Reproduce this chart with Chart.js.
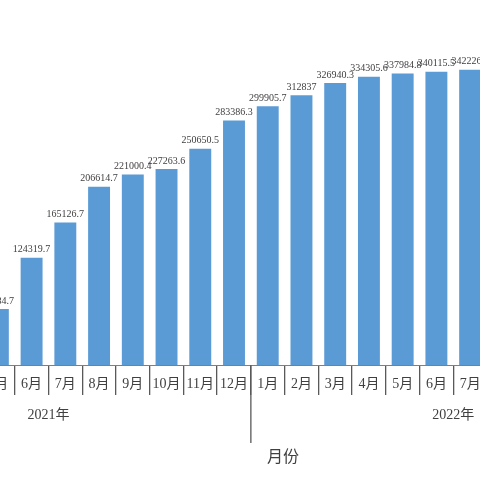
<!DOCTYPE html>
<html>
<head>
<meta charset="utf-8">
<script src="https://cdn.jsdelivr.net/npm/chart.js@4"></script>
<style>
  html, body { margin: 0; padding: 0; background: #fff; overflow: hidden; width: 480px; height: 480px; }
  #wrap { position: absolute; left: -40px; top: 0; }
</style>
</head>
<body>
<div id="wrap"><canvas id="barChart" width="560" height="480"></canvas></div>
<script>
// months shown (2021年5月 .. 2022年7月)
const months = ["5月", "6月", "7月", "8月", "9月", "10月", "11月", "12月",
                "1月", "2月", "3月", "4月", "5月", "6月", "7月"];
const values = [64884.7, 124319.7, 165126.7, 206614.7, 221000.4, 227263.6, 250650.5, 283386.3,
                299905.7, 312837, 326940.3, 334305.6, 337984.8, 340115.5, 342226.5];
const yearLabels = ["2021年", "2022年"];
// year groups as category index ranges (first / last month index of each year)
const yearFirst = [-4, 8];
const yearLast = [7, 19];
const yMax = 400000;
const axisTitle = "月份";

const serif = "'Liberation Serif', 'Noto Sans CJK SC', serif";

const labelPlugin = {
  id: "labelPlugin",
  afterDatasetsDraw(chart) {
    const ctx = chart.ctx;
    const meta = chart.getDatasetMeta(0);
    ctx.save();
    ctx.font = "10px " + serif;
    ctx.fillStyle = "#404040";
    ctx.textAlign = "center";
    ctx.textBaseline = "bottom";
    meta.data.forEach((bar, i) => {
      ctx.fillText(String(values[i]), bar.x, bar.y - 3);
    });
    ctx.restore();
  },
  afterDraw(chart) {
    const ctx = chart.ctx;
    const x = chart.scales.x;
    ctx.save();
    // long separator between the two years
    const sep = (x.getPixelForValue(7) + x.getPixelForValue(8)) / 2;
    ctx.strokeStyle = "#595959";
    ctx.lineWidth = 1.3;
    ctx.beginPath();
    ctx.moveTo(sep, x.top);
    ctx.lineTo(sep, x.top + 78);
    ctx.stroke();

    ctx.fillStyle = "#404040";
    ctx.textAlign = "center";
    ctx.textBaseline = "middle";
    ctx.font = "14px " + serif;
    yearLabels.forEach((t, i) => {
      const c = x.getPixelForValue((yearFirst[i] + yearLast[i]) / 2);
      ctx.fillText(t, c, x.top + 50);
    });
    ctx.font = "16px " + serif;
    ctx.fillText(axisTitle, x.getPixelForValue(8.45), x.top + 93);
    ctx.restore();
  }
};

const ctx = document.getElementById("barChart").getContext("2d");
new Chart(ctx, {
  type: "bar",
  data: {
    labels: months,
    datasets: [
      {
        data: values,
        backgroundColor: "#5B9BD5",
        borderWidth: 0,
        barPercentage: 0.65,
        categoryPercentage: 1.0,
      },
    ],
  },
  options: {
    responsive: false,
    animation: false,
    layout: { padding: { left: 21, right: 33, top: 20, bottom: 0 } },
    plugins: {
      legend: { display: false },
      tooltip: { enabled: false },
    },
    scales: {
      x: {
        afterFit: (scale) => { scale.height = 115; },
        grid: {
          display: true,
          drawOnChartArea: false,
          drawTicks: true,
          tickLength: 30,
          offset: true,
          color: "#595959",
          lineWidth: 1.3,
        },
        border: { display: true, color: "#7f7f7f", width: 1 },
        ticks: {
          padding: -19,
          maxRotation: 0,
          autoSkip: false,
          color: "#404040",
          font: { family: serif, size: 14 },
        },
      },
      y: {
        display: false,
        min: 0,
        max: yMax,
      },
    },
  },
  plugins: [labelPlugin],
});
</script>
</body>
</html>
